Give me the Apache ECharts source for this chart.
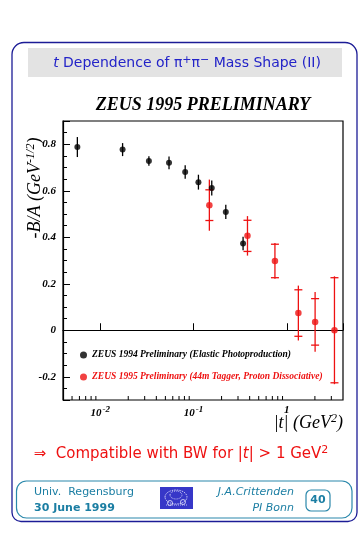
<!DOCTYPE html>
<html><head><meta charset="utf-8">
<script src="https://cdn.jsdelivr.net/npm/echarts@6/dist/echarts.min.js"></script>
<style>html,body{margin:0;padding:0;background:#fff}#c{width:363px;height:535px}</style>
</head><body><div id="c"></div>
<script>
// ---- data ----
const blackT   = [0.0057, 0.0174, 0.0333, 0.0547, 0.0815, 0.113, 0.157, 0.222, 0.340];
const blackY   = [0.788, 0.777, 0.728, 0.720, 0.681, 0.637, 0.612, 0.509, 0.373];
const blackErr = [0.043, 0.028, 0.020, 0.027, 0.029, 0.032, 0.032, 0.031, 0.029];

const redT    = [0.148, 0.379, 0.746, 1.33, 2.01, 3.24];
const redY    = [0.538, 0.406, 0.298, 0.074, 0.036, 0.000];
const redStat = [0.066, 0.067, 0.072, 0.100, 0.100, 0.226];
const redTot  = [0.110, 0.085, 0.077, 0.118, 0.129, 0.232];

const xMinorTicks = [0.005, 0.006, 0.007, 0.008, 0.009,
                     0.02, 0.03, 0.04, 0.05, 0.06, 0.07, 0.08, 0.09,
                     0.2, 0.3, 0.4, 0.5, 0.6, 0.7, 0.8, 0.9, 2, 3];
const xTickLabels = {'0.01': ['10', '-2'], '0.1': ['10', '-1'], '1': ['1', '']};

const name94 = 'ZEUS 1994 Preliminary (Elastic Photoproduction)';
const name95 = 'ZEUS 1995 Preliminary (44m Tagger, Proton Dissociative)';

const RED = '#ee1111';
const SERIF = '"Liberation Serif", "DejaVu Serif", serif';
const SANS = '"DejaVu Sans", Verdana, sans-serif';
const NAVY = '#1c1c96';
const TEAL = '#2a88ab';
const TEALTXT = '#1b7ea3';

const chart = echarts.init(document.getElementById('c'), null, {renderer: 'canvas'});

function blackErrRender(params, api) {
  const x = api.value(0), y = api.value(1), e = api.value(2);
  const a = api.coord([x, y + e]), b = api.coord([x, y - e]);
  return {type: 'line', shape: {x1: a[0], y1: a[1], x2: b[0], y2: b[1]},
          style: {stroke: '#000', lineWidth: 1.3}};
}
function redErrRender(params, api) {
  const x = api.value(0), y = api.value(1), s = api.value(2), t = api.value(3);
  const c = api.coord([x, y]);
  const top = api.coord([x, y + t])[1], bot = api.coord([x, y - t])[1];
  const st = api.coord([x, y + s])[1], sb = api.coord([x, y - s])[1];
  const hw = 4;
  const sty = {stroke: RED, lineWidth: 1.3};
  return {type: 'group', children: [
    {type: 'line', shape: {x1: c[0], y1: top, x2: c[0], y2: bot}, style: sty},
    {type: 'line', shape: {x1: c[0] - hw, y1: st, x2: c[0] + hw, y2: st}, style: sty},
    {type: 'line', shape: {x1: c[0] - hw, y1: sb, x2: c[0] + hw, y2: sb}, style: sty}
  ]};
}
function minorTickRender(params, api) {
  const p = api.coord([api.value(0), -0.3]);
  return {type: 'line', shape: {x1: p[0], y1: p[1], x2: p[0], y2: p[1] - 4},
          style: {stroke: '#000', lineWidth: 1}};
}

const option = {
  animation: false,
  backgroundColor: '#fff',
  grid: {left: 63, right: 20, top: 121, bottom: 135, show: true,
         borderColor: '#000', borderWidth: 1.2, backgroundColor: 'transparent'},
  xAxis: {
    type: 'log', logBase: 10, min: 0.004, max: 4,
    axisLine: {show: true, lineStyle: {color: '#000', width: 1.2}},
    axisTick: {show: true, inside: true, length: 7, lineStyle: {color: '#000', width: 1}},
    splitLine: {show: false},
    axisLabel: {
      margin: 5,
      formatter: function (v) {
        const k = String(+v.toPrecision(3));
        const l = xTickLabels[k];
        if (!l) return '';
        return l[1] ? '{b|' + l[0] + '}{s|' + l[1] + '}' : '{s1|' + l[0] + '}';
      },
      rich: {
        b: {fontFamily: SERIF, fontStyle: 'italic', fontWeight: 'bold', fontSize: 11, color: '#000'},
        s: {fontFamily: SERIF, fontStyle: 'italic', fontWeight: 'bold', fontSize: 9, color: '#000', padding: [0, 0, 7, 1]},
        s1: {fontFamily: SERIF, fontStyle: 'italic', fontWeight: 'bold', fontSize: 11, color: '#000', padding: [0, 0, 6, 0]}
      }
    }
  },
  yAxis: {
    type: 'value', min: -0.3, max: 0.9, splitNumber: 6,
    axisLine: {show: true, lineStyle: {color: '#000', width: 1.2}},
    axisTick: {show: true, inside: true, length: 7, lineStyle: {color: '#000', width: 1}},
    minorTick: {show: true, splitNumber: 4, length: 4, lineStyle: {color: '#000', width: 1}},
    splitLine: {show: false},
    axisLabel: {showMinLabel: false, showMaxLabel: false, margin: 7,
      fontFamily: SERIF, fontStyle: 'italic', fontWeight: 'bold', fontSize: 11, color: '#000'}
  },
  legend: {
    show: true, orient: 'vertical', left: 75, top: 345,
    itemWidth: 7, itemHeight: 7, itemGap: 12, icon: 'circle',
    textStyle: {fontFamily: SERIF, fontStyle: 'italic', fontWeight: 'bold', fontSize: 9.5, lineHeight: 10},
    data: [
      {name: name94, textStyle: {color: '#000'}},
      {name: name95, textStyle: {color: RED}}
    ]
  },
  series: [
    {type: 'custom', name: 'minor', renderItem: minorTickRender, silent: true, clip: false, z: 5,
     data: xMinorTicks.map(v => [v, -0.3])},
    {type: 'custom', name: 'err94', renderItem: blackErrRender, silent: true, z: 2,
     data: blackT.map((t, i) => [t, blackY[i], blackErr[i]])},
    {type: 'custom', name: 'err95', renderItem: redErrRender, silent: true, z: 2,
     data: redT.map((t, i) => [t, redY[i], redStat[i], redTot[i]])},
    {type: 'scatter', name: name94, symbol: 'circle', symbolSize: 6, z: 3,
     itemStyle: {color: '#000'}, data: blackT.map((t, i) => [t, blackY[i]])},
    {type: 'scatter', name: name95, symbol: 'circle', symbolSize: 6.5, z: 3,
     itemStyle: {color: RED}, data: redT.map((t, i) => [t, redY[i]])}
  ],
  graphic: [
    // outer slide frame
    {type: 'rect', shape: {x: 12, y: 42.5, width: 345, height: 479, r: [12, 12, 9, 9]},
     style: {fill: 'none', stroke: NAVY, lineWidth: 1.3}, z: -10},
    // header bar
    {type: 'rect', shape: {x: 28, y: 48, width: 314, height: 29},
     style: {fill: '#e3e3e3', stroke: 'none'}, z: -9},
    {type: 'text', x: 187, y: 63, z: 10,
     style: {text: '{i|t} Dependence of π{p|+}π{p|−} Mass Shape (II)', align: 'center', verticalAlign: 'middle',
       fill: '#2323c8', font: '14px ' + SANS,
       rich: {i: {fontStyle: 'italic', fontSize: 14, fontFamily: SANS, fill: '#2323c8'},
              p: {fontSize: 11, fontFamily: SANS, fill: '#2323c8', padding: [0, 0, 6, 0]}}}},
    // plot title
    {type: 'text', x: 203, y: 105, z: 10,
     style: {text: 'ZEUS 1995 PRELIMINARY', align: 'center', verticalAlign: 'middle',
       fill: '#000', font: 'italic bold 18px ' + SERIF}},
    // y axis title
    {type: 'text', x: 35, y: 188, rotation: Math.PI / 2, z: 10,
     style: {text: '{a|-B/A (GeV}{s|-1/2}{a|)}', align: 'center', verticalAlign: 'middle',
       rich: {a: {fontFamily: SERIF, fontStyle: 'italic', fontSize: 18, fill: '#000'},
              s: {fontFamily: SERIF, fontStyle: 'italic', fontSize: 12, fill: '#000', padding: [0, 0, 8, 0]}}}},
    // x axis title
    {type: 'text', x: 343, y: 423, z: 10,
     style: {text: '{a||t| (GeV}{s|2}{a|)}', align: 'right', verticalAlign: 'middle',
       rich: {a: {fontFamily: SERIF, fontStyle: 'italic', fontSize: 18, fill: '#000'},
              s: {fontFamily: SERIF, fontStyle: 'italic', fontSize: 12, fill: '#000', padding: [0, 0, 8, 0]}}}},
    // conclusion line
    {type: 'text', x: 181, y: 454, z: 10,
     style: {text: '⇒  Compatible with BW for |{i|t}| > 1 GeV{p|2}', align: 'center', verticalAlign: 'middle',
       fill: RED, font: '15px ' + SANS,
       rich: {i: {fontStyle: 'italic', fontSize: 15, fontFamily: SANS, fill: RED},
              p: {fontSize: 11, fontFamily: SANS, fill: RED, padding: [0, 0, 7, 0]}}}},
    // footer box
    {type: 'rect', shape: {x: 16.5, y: 481, width: 335.5, height: 37, r: 10},
     style: {fill: 'none', stroke: TEAL, lineWidth: 1.2}, z: -9},
    {type: 'text', x: 34, y: 492, style: {text: 'Univ.  Regensburg', fill: TEALTXT, font: '11px ' + SANS, verticalAlign: 'middle'}},
    {type: 'text', x: 34, y: 508, style: {text: '30 June 1999', fill: TEALTXT, font: 'bold 11px ' + SANS, verticalAlign: 'middle'}},
    {type: 'text', x: 294, y: 492, style: {text: 'J.A.Crittenden', fill: TEALTXT, font: 'italic 11px ' + SANS, align: 'right', verticalAlign: 'middle'}},
    {type: 'text', x: 294, y: 508, style: {text: 'PI Bonn', fill: TEALTXT, font: 'italic 11px ' + SANS, align: 'right', verticalAlign: 'middle'}},
    {type: 'rect', shape: {x: 306, y: 490, width: 24, height: 21, r: 5},
     style: {fill: 'none', stroke: TEAL, lineWidth: 1.2}},
    {type: 'text', x: 318, y: 500.5, style: {text: '40', fill: TEALTXT, font: 'bold 11px ' + SANS, align: 'center', verticalAlign: 'middle'}},
    // logo
    {type: 'rect', shape: {x: 160, y: 487, width: 33, height: 22}, style: {fill: '#3737c8'}},
    {type: 'ellipse', shape: {cx: 176, cy: 497, rx: 11, ry: 7}, style: {fill: 'none', stroke: '#e8e8ff', lineWidth: 0.8, lineDash: [1.5, 1]}},
    {type: 'ellipse', shape: {cx: 176, cy: 495, rx: 6, ry: 4}, style: {fill: 'none', stroke: '#e8e8ff', lineWidth: 0.8, lineDash: [1, 1]}},
    {type: 'circle', shape: {cx: 170, cy: 503, r: 2.5}, style: {fill: 'none', stroke: '#ffffff', lineWidth: 0.7}},
    {type: 'circle', shape: {cx: 183, cy: 502, r: 2.5}, style: {fill: 'none', stroke: '#ffffff', lineWidth: 0.7}},
    {type: 'line', shape: {x1: 166, y1: 505, x2: 188, y2: 505}, style: {stroke: '#dcdcff', lineWidth: 0.8, lineDash: [1, 1]}}
  ]
};
chart.setOption(option);
</script></body></html>
